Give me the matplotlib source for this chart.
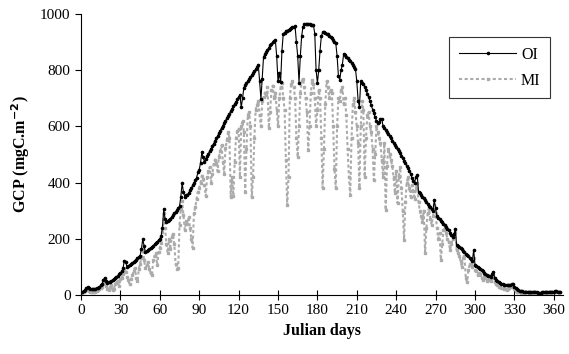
import numpy as np
import matplotlib
matplotlib.use("Agg")
import matplotlib.pyplot as plt

# Julian days 1..365
days = list(range(1, 366))

# OI - daily GCP (mgC.m-2)
oi = [
    12, 14, 18, 24, 28, 26, 22, 21, 22, 22,
    23, 24, 25, 28, 34, 40, 52, 62, 50, 43,
    45, 47, 50, 53, 56, 60, 64, 68, 73, 78,
    84, 96, 122, 118, 100, 102, 105, 109, 113, 118,
    122, 126, 131, 135, 140, 165, 198, 176, 152, 155,
    159, 163, 167, 171, 176, 180, 185, 190, 195, 200,
    210, 240, 305, 272, 258, 262, 267, 272, 278, 284,
    290, 296, 302, 308, 315, 350, 398, 366, 350, 355,
    356, 364, 372, 381, 390, 399, 408, 418, 436, 446,
    470, 508, 490, 475, 485, 494, 503, 512, 521, 530,
    539, 548, 557, 566, 576, 585, 594, 603, 612, 620,
    629, 637, 645, 654, 662, 671, 680, 688, 696, 705,
    712, 668, 700, 738, 746, 754, 761, 768, 775, 782,
    789, 796, 803, 810, 818, 760, 697, 770, 848, 856,
    864, 872, 880, 888, 894, 899, 903, 906, 850, 760,
    790, 758, 870, 930, 934, 938, 941, 944, 947, 950,
    952, 954, 956, 900, 850, 756, 850, 920, 955, 963,
    964, 964, 963, 963, 962, 962, 960, 930, 800, 755,
    800, 870, 920, 935, 936, 933, 930, 927, 923, 918,
    913, 908, 902, 896, 850, 780, 766, 800, 820, 858,
    853, 848, 843, 838, 832, 826, 819, 812, 804, 760,
    692, 670, 760, 756, 750, 740, 729, 717, 704, 690,
    675, 660, 646, 632, 620, 612, 615, 625, 628, 600,
    593, 586, 579, 572, 565, 557, 549, 541, 533, 525,
    518, 511, 505, 496, 487, 478, 469, 460, 451, 442,
    430, 418, 405, 400, 420, 427, 368, 362, 356, 350,
    344, 337, 331, 324, 318, 312, 306, 300, 338, 310,
    280, 275, 270, 265, 260, 254, 248, 242, 236, 230,
    222, 214, 206, 216, 234, 178, 174, 170, 166, 162,
    157, 152, 147, 142, 137, 132, 127, 122, 160, 108,
    104, 100, 96, 92, 89, 85, 80, 76, 72, 68,
    66, 64, 75, 82, 62, 55, 50, 46, 42, 40,
    38, 36, 35, 35, 35, 35, 36, 38, 39, 28,
    24, 20, 17, 15, 14, 13, 12, 12, 12, 12,
    11, 11, 10, 10, 10, 9, 9, 8, 8, 8,
    9, 9, 10, 10, 10, 11, 11, 12, 12, 12,
    13, 13, 12, 12, 12,
]

# MI - daily GCP (mgC.m-2)
mi = [
    8, 10, 13, 16, 18, 14, 10, 9, 12, 10,
    11, 15, 18, 22, 24, 30, 38, 46, 32, 22,
    18, 28, 34, 16, 22, 38, 44, 50, 32, 56,
    62, 74, 92, 82, 64, 52, 40, 56, 70, 84,
    95, 62, 48, 92, 112, 132, 165, 125, 96, 108,
    118, 92, 78, 70, 125, 140, 148, 105, 152, 168,
    185, 225, 292, 238, 182, 150, 198, 162, 205, 218,
    182, 112, 92, 96, 250, 305, 335, 285, 232, 262,
    252, 278, 238, 200, 168, 292, 312, 342, 368, 382,
    398, 425, 412, 392, 352, 420, 440, 455, 400, 432,
    465, 482, 470, 440, 492, 512, 532, 475, 432, 522,
    552, 580, 560, 350, 420, 352, 472, 560, 582, 592,
    420, 602, 620, 580, 368, 520, 640, 650, 600, 348,
    420, 560, 660, 675, 690, 640, 600, 690, 705, 720,
    710, 740, 594, 650, 730, 745, 700, 720, 660, 600,
    700, 740, 755, 700, 660, 480, 320, 420, 700, 750,
    760, 740, 700, 560, 491, 600, 720, 760, 770, 740,
    700, 650, 516, 600, 720, 765, 750, 700, 600, 660,
    730, 700, 560, 381, 520, 680, 760, 740, 700, 730,
    720, 600, 450, 381, 600, 700, 690, 730, 740, 680,
    700, 640, 520, 420, 356, 560, 680, 700, 650, 600,
    540, 380, 600, 690, 660, 420, 560, 640, 650, 600,
    580, 520, 409, 500, 600, 580, 560, 540, 480, 420,
    540, 302, 460, 520, 500, 480, 460, 420, 363, 440,
    327, 420, 455, 380, 300, 196, 330, 400, 420, 380,
    350, 390, 370, 340, 380, 400, 330, 300, 280, 260,
    300, 150, 240, 290, 310, 270, 250, 280, 320, 290,
    240, 200, 220, 125, 180, 230, 240, 220, 200, 190,
    160, 180, 200, 205, 225, 160, 150, 140, 120, 100,
    130, 140, 60, 46, 90, 110, 105, 100, 130, 90,
    85, 70, 80, 75, 60, 55, 68, 60, 50, 55,
    52, 48, 60, 70, 45, 38, 35, 30, 28, 26,
    24, 22, 20, 18, 22, 25, 28, 30, 32, 20,
    15, 12, 10, 9, 8, 8, 9, 10, 12, 9,
    8, 7, 8, 9, 10, 9, 8, 7, 6, 7,
    8, 7, 9, 10, 8, 9, 10, 11, 9, 10,
    11, 12, 10, 9, 10,
]

plt.rcParams['font.family'] = ['Liberation Serif', 'DejaVu Serif']

fig = plt.figure(figsize=(5.69, 3.54), dpi=100)
ax = fig.add_axes([0.1424, 0.1667, 0.847, 0.7938])

ax.plot(days, mi, color='#ababab', linestyle=(0, (1.5, 1.2)), linewidth=1.5,
        marker='s', markersize=1.8, label='MI', zorder=2)
ax.plot(days, oi, color='black', linewidth=0.8,
        marker='o', markersize=1.6, label='OI', zorder=3)

ax.set_xlim(0, 367)
ax.set_ylim(0, 1000)
ax.set_xticks(np.arange(0, 361, 30))
ax.set_yticks(np.arange(0, 1001, 200))
ax.spines['top'].set_visible(False)
ax.spines['right'].set_visible(False)
ax.tick_params(axis='x', direction='inout', length=7, width=0.8, labelsize=11, pad=3)
ax.tick_params(axis='y', direction='out', length=4, width=0.8, labelsize=11)

ax.set_xlabel('Julian days', fontsize=11.5, fontweight='bold', labelpad=4)
ax.set_ylabel('GCP (mgC.m$^{\\mathbf{-2}}$)', fontsize=11.5, fontweight='bold', labelpad=6)

handles, labels = ax.get_legend_handles_labels()
leg = ax.legend(handles[::-1], labels[::-1], loc='upper right', bbox_to_anchor=(0.99, 0.945),
                fontsize=11.5, frameon=True, fancybox=False, edgecolor='black',
                handlelength=3.6, borderpad=0.6, labelspacing=0.6, handletextpad=0.3)
leg.get_frame().set_linewidth(0.8)

plt.savefig('out.png', dpi=100)
